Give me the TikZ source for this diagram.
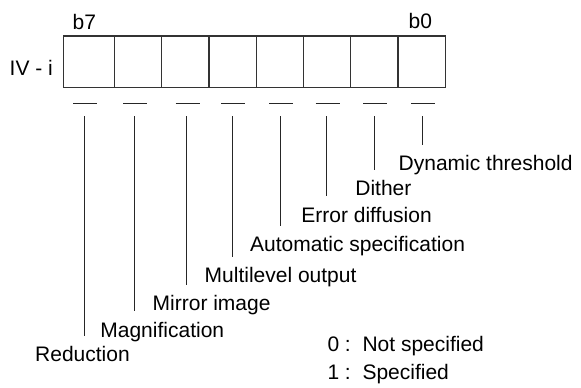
\documentclass[tikz,border=0pt]{standalone}
\usepackage{fontspec}
\setmainfont{Liberation Sans}
\usepackage{tikz}
\usetikzlibrary{positioning}
\newcommand\bitfont{\fontsize{21}{25}\selectfont}

\begin{document}
\begin{tikzpicture}[x=1pt, y=-1pt,
      cell/.style={draw=black!80, line width=1.3pt, minimum width=47.3pt,
                   minimum height=51.3pt, inner sep=0pt, outer sep=0pt},
      txt/.style={inner sep=0pt, anchor=base west, font=\bitfont},
      bar/.style={line width=0.9pt, draw=black!85},
      lead/.style={line width=0.9pt, draw=black!85, shorten >=10.5pt}]
    \useasboundingbox (0,0) rectangle (581,388);
    % the register, b7 on the left
    \node[cell, minimum width=51pt, anchor=north west] (c7) at (63.3,36) {};
    \node[cell, right=0pt of c7] (c6) {};
    \node[cell, right=0pt of c6] (c5) {};
    \node[cell, right=0pt of c5] (c4) {};
    \node[cell, right=0pt of c4] (c3) {};
    \node[cell, right=0pt of c3] (c2) {};
    \node[cell, right=0pt of c2] (c1) {};
    \node[cell, right=0pt of c1] (c0) {};
    \node[txt] (reg) at (9.5,75) {IV - i};
    \node[txt] (msb) at (72.5,29.3) {b7};
    \node[txt] (lsb) at (408.5,28.3) {b0};
    % one bar under each bit
    \coordinate (u7) at (84,103.3);
    \coordinate (u6) at (134.3,103.3);
    \coordinate (u5) at (186.7,103.3);
    \coordinate (u4) at (232.3,103.3);
    \coordinate (u3) at (280,103.3);
    \coordinate (u2) at (326.7,103.3);
    \coordinate (u1) at (374,103.3);
    \coordinate (u0) at (422,103.3);
    \draw[bar] ([xshift=-11pt]u7) -- ([xshift=13pt]u7);
    \draw[bar] ([xshift=-11pt]u6) -- ([xshift=13pt]u6);
    \draw[bar] ([xshift=-11pt]u5) -- ([xshift=13pt]u5);
    \draw[bar] ([xshift=-11pt]u4) -- ([xshift=13pt]u4);
    \draw[bar] ([xshift=-11pt]u3) -- ([xshift=13pt]u3);
    \draw[bar] ([xshift=-11pt]u2) -- ([xshift=13pt]u2);
    \draw[bar] ([xshift=-11pt]u1) -- ([xshift=13pt]u1);
    \draw[bar] ([xshift=-11pt]u0) -- ([xshift=13pt]u0);
    % what each bit selects
    \node[txt] (dyn)   at (398.5,170.7) {Dynamic threshold};
    \node[txt] (dith)  at (355.2,195.7) {Dither};
    \node[txt] (err)   at (301.2,222.3) {Error diffusion};
    \node[txt] (auto)  at (250,251.7)   {Automatic specification};
    \node[txt] (multi) at (204.5,282.7) {Multilevel output};
    \node[txt] (mirr)  at (152.5,310.7) {Mirror image};
    \node[txt] (magn)  at (100.2,337.3) {Magnification};
    \node[txt] (red)   at (35,361.7)    {Reduction};
    \draw[lead] ([yshift=-12.7pt]u0) -- (u0 |- dyn.north);
    \draw[lead] ([yshift=-12.7pt]u1) -- (u1 |- dith.north);
    \draw[lead] ([yshift=-12.7pt]u2) -- (u2 |- err.north);
    \draw[lead] ([yshift=-12.7pt]u3) -- (u3 |- auto.north);
    \draw[lead] ([yshift=-12.7pt]u4) -- (u4 |- multi.north);
    \draw[lead] ([yshift=-12.7pt]u5) -- (u5 |- mirr.north);
    \draw[lead] ([yshift=-12.7pt]u6) -- (u6 |- magn.north);
    \draw[lead] ([yshift=-12.7pt]u7) -- (u7 |- red.north);
    % meaning of the values
    \node[txt] (off) at (327.3,351.7) {0 :~~Not specified};
    \node[txt] (on) at ([yshift=-27.8pt]off.base west) {1 :~~Specified};
\end{tikzpicture}
\end{document}
